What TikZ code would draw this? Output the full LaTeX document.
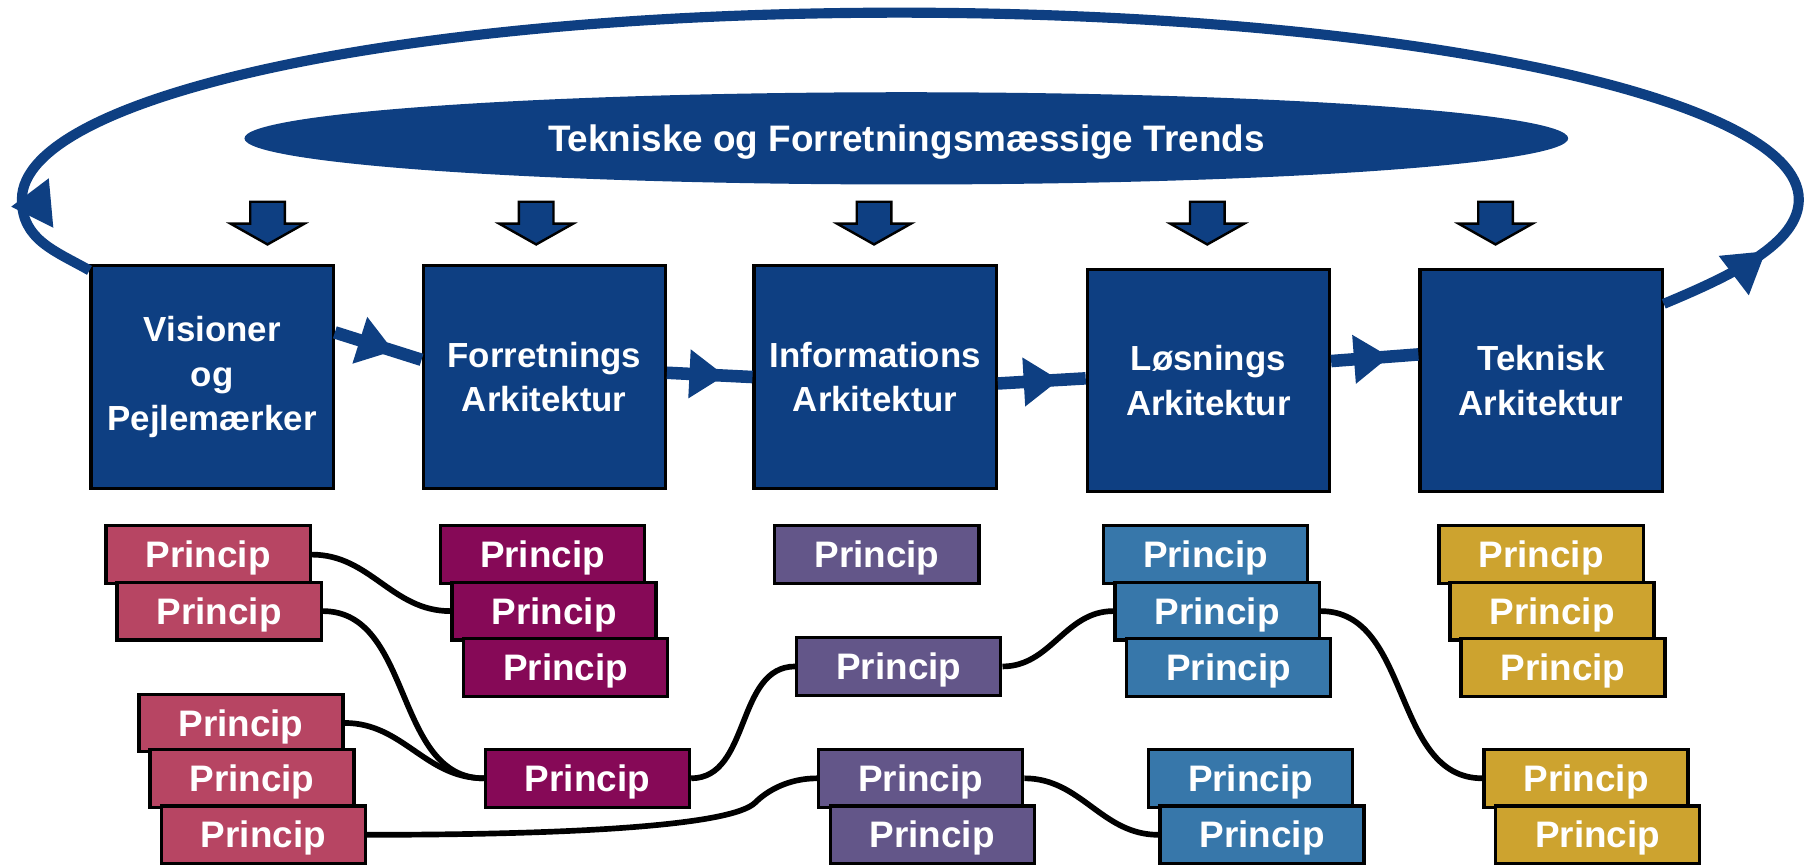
\documentclass[tikz,border=0pt]{standalone}
\usepackage{fontspec}
\setmainfont{Liberation Sans}
\usepackage{tikz}
\usetikzlibrary{shapes,arrows.meta,calc,positioning,decorations.markings}
\tikzset{>=latex}
\usepackage{xcolor}

\definecolor{archblue}{RGB}{14,63,130}
\definecolor{visred}{RGB}{183,69,99}
\definecolor{forrmagenta}{RGB}{134,9,87}
\definecolor{infoviolet}{RGB}{99,86,137}
\definecolor{losblue}{RGB}{55,119,170}
\definecolor{tekgold}{RGB}{205,163,47}

\tikzset{
  archbox/.style={draw=black, line width=0.8pt, fill=archblue, text=white, minimum width=2.1cm, minimum height=1.93cm, align=center, font=\fontsize{8.6}{11}\selectfont\bfseries},
  princip/.style={draw=black, line width=0.8pt, fill=#1, text=white, minimum width=1.77cm, minimum height=0.5cm, inner sep=0pt, text height=6.5pt, text depth=0pt, font=\fontsize{9.1}{11}\selectfont\bfseries},
  trend/.style={ellipse, fill=archblue, text=white, minimum width=11.48cm, minimum height=0.8cm, inner sep=0pt, text height=6.5pt, text depth=0pt, font=\fontsize{9.1}{11}\selectfont\bfseries},
  trendarrow/.style={fill=archblue, draw=black, line width=0.6pt},
  link/.style={line width=1.4pt, black},
  flow/.style={line width=3.1pt, archblue, postaction={decorate}, decoration={markings, mark=at position #1 with {\arrow{Triangle[length=8.8pt,width=11.5pt]}}}},
  feedback/.style={line width=2.5pt, archblue, postaction={decorate}, decoration={markings,
      mark=at position 1cm with {\arrow{Triangle[length=10pt,width=11.5pt]}},
      mark=at position -0.85cm with {\pgftransformrotate{-90}\pgftransformxshift{0.1cm}\arrow{Triangle[length=10pt,width=11.5pt]}}}}
}

\begin{document}
\begin{tikzpicture}
  \useasboundingbox (0,0) rectangle (15.68,7.51);

  % trends on top
  \node[trend] (trends) at (7.86,6.31) {Tekniske og Forretningsmæssige Trends};
  \foreach \x in {2.32,4.65,7.58,10.47,12.97}
    \draw[trendarrow] (\x-0.15,5.76) -- (\x+0.15,5.76) -- (\x+0.15,5.57) -- (\x+0.32,5.57)
      -- (\x,5.39) -- (\x-0.32,5.57) -- (\x-0.15,5.57) -- cycle;

  % architecture boxes
  \node[archbox] (vis) at (1.84,4.24) {Visioner\\og\\Pejlemærker};
  \node[archbox] (forr) at (4.72,4.24) {Forretnings\\Arkitektur};
  \node[archbox] (info) at (7.59,4.24) {Informations\\Arkitektur};
  \node[archbox] (los) at (10.48,4.21) {Løsnings\\Arkitektur};
  \node[archbox] (tek) at (13.365,4.21) {Teknisk\\Arkitektur};

  \draw[flow=0.68] (vis.20) -- (forr.172);
  \draw[flow=0.68] (forr.2) -- (info.180);
  \draw[flow=0.7] (info.-3) -- (los.179);
  \draw[flow=0.67] (los.9) -- (tek.168);

  \draw[feedback] (tek.32) .. controls +(0.6,0.25) and +(0,-0.38) .. (15.6,5.78)
    .. controls +(0,0.9) and +(4.3,0) .. (7.8,7.40)
    .. controls +(-4.3,0) and +(0,0.9) .. (0.19,5.78)
    .. controls +(0,-0.35) and +(-0.3,0.17) .. (vis.139);

  % principles
  \foreach \n/\col/\x/\y in {v1/visred/1.805/2.70, v2/visred/1.90/2.21, v3/visred/2.09/1.24,
      v4/visred/2.185/0.76, v5/visred/2.285/0.27,
      f1/forrmagenta/4.705/2.70, f2/forrmagenta/4.805/2.21, f3/forrmagenta/4.905/1.72,
      f4/forrmagenta/5.095/0.76,
      i1/infoviolet/7.605/2.70, i2/infoviolet/7.795/1.73, i3/infoviolet/7.985/0.76,
      i4/infoviolet/8.085/0.27,
      l1/losblue/10.455/2.70, l2/losblue/10.555/2.21, l3/losblue/10.655/1.72,
      l4/losblue/10.845/0.76, l5/losblue/10.945/0.27,
      t1/tekgold/13.365/2.70, t2/tekgold/13.46/2.21, t3/tekgold/13.555/1.72,
      t4/tekgold/13.755/0.76, t5/tekgold/13.855/0.27}
    \node[princip=\col] (\n) at (\x,\y) {Princip};

  \draw[link] (v1.east) to[out=0,in=180] (f2.west);
  \draw[link] (v2.east) to[out=0,in=180] (f4.west);
  \draw[link] (v3.east) to[out=0,in=180] (f4.west);
  \draw[link] (f4.east) to[out=0,in=180] (i2.west);
  \draw[link] (v5.east) .. controls +(1.8,0) and +(-0.2,-0.2) .. (6.55,0.55)
    .. controls +(0.1,0.1) and +(-0.25,0) .. (i3.west);
  \draw[link] (i2.east) to[out=0,in=180] (l2.west);
  \draw[link] (l2.east) to[out=0,in=180] (t4.west);
  \draw[link] (i3.east) to[out=0,in=180] (l5.west);
\end{tikzpicture}
\end{document}
